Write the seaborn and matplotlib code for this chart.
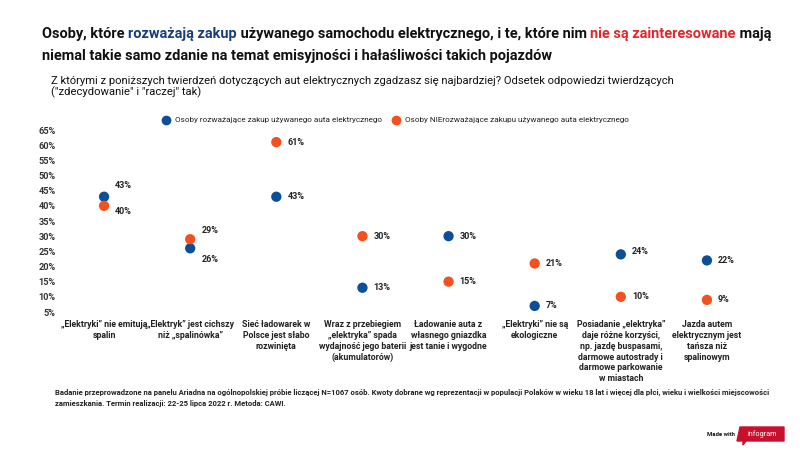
import matplotlib
matplotlib.use('Agg')
import matplotlib.pyplot as plt
import seaborn as sns
import pandas as pd

# Data
categories = [
    '„Elektryki” nie emitują\nspalin',
    '„Elektryk” jest cichszy\nniż „spalinówka”',
    'Sieć ładowarek w\nPolsce jest słabo\nrozwinięta',
    'Wraz z przebiegiem\n„elektryka” spada\nwydajność jego baterii\n(akumulatorów)',
    'Ładowanie auta z\nwłasnego gniazdka\njest tanie i wygodne',
    '„Elektryki” nie są\nekologiczne',
    'Posiadanie „elektryka”\ndaje różne korzyści,\nnp. jazdę buspasami,\ndarmowe autostrady i\ndarmowe parkowanie\nw miastach',
    'Jazda autem\nelektrycznym jest\ntańsza niż\nspalinowym',
]
considering = [43, 26, 43, 13, 30, 7, 24, 22]
not_considering = [40, 29, 61, 30, 15, 21, 10, 9]
series_names = ['Osoby rozważające zakup używanego auta elektrycznego',
                'Osoby NIErozważające zakupu używanego auta elektrycznego']
y_ticks = list(range(5, 70, 5))

BLUE = '#0d4f96'
ORANGE = '#f4511e'
TITLE_BLUE = '#1b3c7c'
TITLE_RED = '#e3262b'

# label offsets in points (dx, dy) per category, for each series
blue_off = [(8, 8), (8, -8), (8, 0), (8, 0), (8, 0), (8, 0), (8, 2), (8, 0)]
orange_off = [(8, -4), (8, 6), (8, 0), (8, 0), (8, 0), (8, 0), (8, 0), (8, 0)]

df = pd.DataFrame({
    'cat': list(range(len(categories))) * 2,
    'value': considering + not_considering,
    'series': [series_names[0]] * len(categories) + [series_names[1]] * len(categories),
})

sns.set_theme(style='white')
plt.rcParams['font.family'] = ['Roboto', 'DejaVu Sans']

fig = plt.figure(figsize=(8, 4.5), dpi=100)
ax = fig.add_axes([61 / 800, 138 / 450, 689 / 800, 182 / 450])

sns.scatterplot(data=df, x='cat', y='value', hue='series',
                palette=[BLUE, ORANGE], s=55, edgecolor='none',
                legend=False, ax=ax, zorder=3)

ax.set_xlim(-0.5, len(categories) - 0.5)
ax.set_ylim(5, 65)
ax.set_yticks(y_ticks)
ax.set_yticklabels([f'{t}%' for t in y_ticks], fontsize=6.6, fontweight='bold', color='#333333')
ax.set_xticks(range(len(categories)))
ax.set_xticklabels(categories, fontsize=6.3, color='#222222', linespacing=1.25,
                   family=['Liberation Sans Narrow', 'Roboto'], fontweight='bold')
ax.tick_params(axis='y', length=0, pad=4)
ax.tick_params(axis='x', length=0, pad=6)
ax.set_xlabel('')
ax.set_ylabel('')
for sp in ax.spines.values():
    sp.set_visible(False)
ax.grid(False)

for i in range(len(categories)):
    for val, off in ((considering[i], blue_off[i]), (not_considering[i], orange_off[i])):
        ax.annotate(f'{val}%', (i, val), xytext=off, textcoords='offset points',
                    ha='left', va='center', fontsize=6.5, fontweight='bold', color='#222222')

# Title with coloured parts
renderer = fig.canvas.get_renderer()


def text_width(s, **kw):
    t = fig.text(0, 0, s + 'x', **kw)
    w1 = t.get_window_extent(renderer).width
    t.remove()
    t = fig.text(0, 0, 'x', **kw)
    w2 = t.get_window_extent(renderer).width
    t.remove()
    return w1 - w2


title_font = ['Liberation Sans Narrow', 'Roboto']
pieces = [('Osoby, które ', '#111111'), ('rozważają zakup', TITLE_BLUE),
          (' używanego samochodu elektrycznego, i te, które nim ', '#111111'),
          ('nie są zainteresowane', TITLE_RED), (' mają', '#111111')]
full = ''.join(p[0] for p in pieces)
size = 10.0 * 733 / text_width(full, fontsize=10.0, fontweight='bold', family=title_font)
title_kw = dict(fontsize=size, fontweight='bold', family=title_font)
x = 42
for s, c in pieces:
    fig.text(x / 800, 1 - 34 / 450, s, color=c, va='center', ha='left', **title_kw)
    x += text_width(s, **title_kw)
fig.text(42 / 800, 1 - 56 / 450,
         'niemal takie samo zdanie na temat emisyjności i hałaśliwości takich pojazdów',
         color='#111111', va='center', ha='left', **title_kw)

fig.text(51 / 800, 1 - 87 / 450,
         'Z którymi z poniższych twierdzeń dotyczących aut elektrycznych zgadzasz się najbardziej? '
         'Odsetek odpowiedzi twierdzących\n("zdecydowanie" i "raczej" tak)',
         fontsize=8.1, color='#111111', va='center', ha='left', linespacing=0.95)

# Legend
leg_y = 1 - 120 / 450
fig.lines.append(plt.Line2D([166 / 800], [leg_y], marker='o', color=BLUE, markersize=6,
                            transform=fig.transFigure, linestyle='none'))
fig.text(175 / 800, leg_y, series_names[0], fontsize=5.9, va='center', ha='left', color='#222222')
fig.lines.append(plt.Line2D([396 / 800], [leg_y], marker='o', color=ORANGE, markersize=6,
                            transform=fig.transFigure, linestyle='none'))
fig.text(405 / 800, leg_y, series_names[1], fontsize=5.9, va='center', ha='left', color='#222222')

# Footnote
fig.text(55 / 800, 1 - 397.5 / 450,
         'Badanie przeprowadzone na panelu Ariadna na ogólnopolskiej próbie liczącej N=1067 osób. '
         'Kwoty dobrane wg reprezentacji w populacji Polaków w wieku 18 lat i więcej dla płci, wieku i wielkości miejscowości\n'
         'zamieszkania. Termin realizacji: 22-25 lipca 2022 r. Metoda: CAWI.',
         fontsize=5.5, fontweight='bold', color='#222222', va='center', ha='left', linespacing=1.7)

# Made with infogram
fig.text(735 / 800, 1 - 434 / 450, 'Made with', fontsize=4.3, fontweight='bold',
         color='#111111', va='center', ha='right')
fig.patches.append(plt.Polygon([[740 / 800, 1 - 427 / 450], [784 / 800, 1 - 427 / 450],
                                [784 / 800, 1 - 441 / 450], [746 / 800, 1 - 441 / 450],
                                [743 / 800, 1 - 445 / 450], [743 / 800, 1 - 441 / 450],
                                [737 / 800, 1 - 441 / 450]],
                               closed=True, transform=fig.transFigure, color='#c8102e'))
fig.text(762 / 800, 1 - 434 / 450, 'infogram', fontsize=5.2, color='white', va='center', ha='center')

fig.savefig('out.png', dpi=100)
